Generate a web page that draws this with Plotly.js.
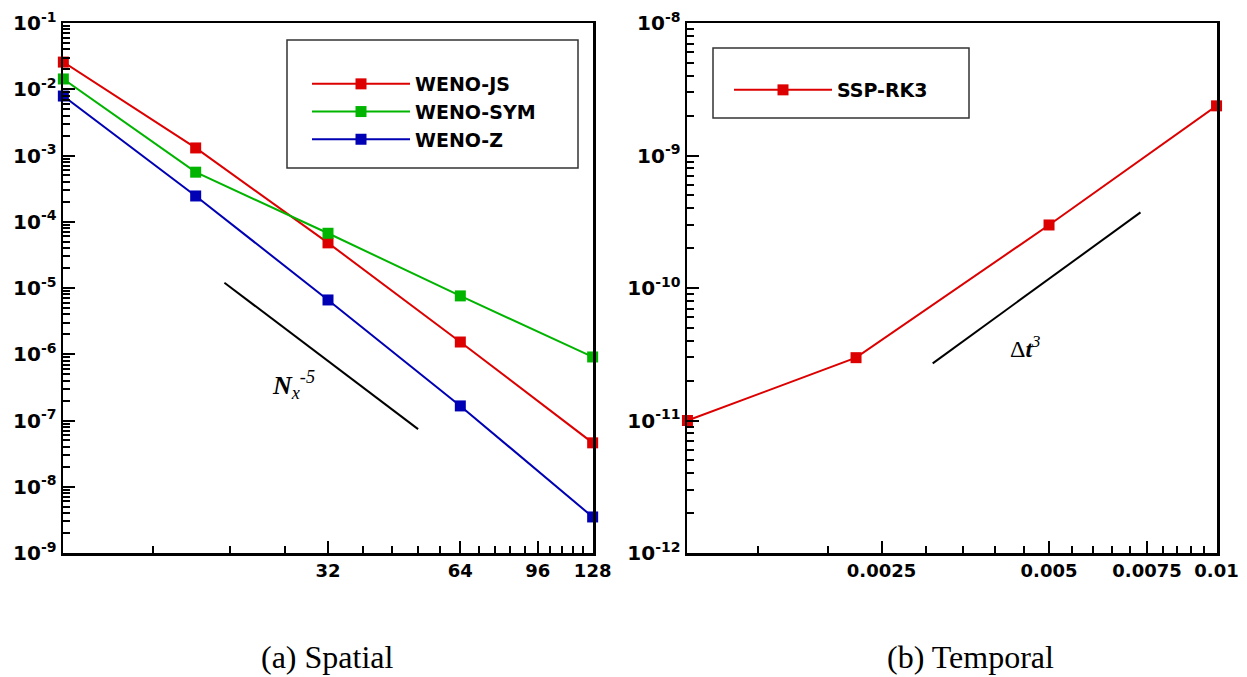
<!DOCTYPE html>
<html>
<head>
<meta charset="utf-8">
<script src="https://cdn.plot.ly/plotly-3.0.1.min.js"></script>
<style>
  html, body { margin: 0; padding: 0; background: #fff; }
  #chart { width: 1247px; height: 677px; }
</style>
</head>
<body>
<div id="chart"></div>
<script>
// ---------- Data ----------
const nx        = [8, 16, 32, 64, 128];
const wenoJS    = [2.57e-2, 1.30e-3, 4.8e-5, 1.53e-6, 4.6e-8];
const wenoSYM   = [1.43e-2, 5.6e-4, 6.7e-5, 7.6e-6, 9.1e-7];
const wenoZ     = [7.9e-3, 2.45e-4, 6.6e-6, 1.66e-7, 3.5e-9];
const refNx     = [18.6, 51.3];
const refNxErr  = [1.2e-5, 7.4e-8];

const dt        = [0.00112, 0.00225, 0.005, 0.01];
const sspRK3    = [1.0e-11, 2.98e-11, 2.99e-10, 2.37e-9];
const refDt     = [0.00309, 0.0073];
const refDtErr  = [2.7e-11, 3.72e-10];

// tick labels
const xTicksA      = [32, 64, 96, 128];
const xTickTextA   = ['32', '64', '96', '128'];
const xMinorA      = [12.8, 19.2, 25.6, 38.4, 44.8, 51.2, 57.6, 70.4, 76.8, 83.2, 89.6, 102.4, 108.8, 115.2, 121.6];
const xTicksB      = [0.0025, 0.005, 0.0075, 0.01];
const xTickTextB   = ['0.0025', '0.005', '0.0075', '0.01'];
const xMinorB      = [0.0015, 0.002, 0.003, 0.0035, 0.004, 0.0045, 0.0055, 0.006, 0.0065, 0.007, 0.008, 0.0085, 0.009, 0.0095];
const yExpA        = [-9, -8, -7, -6, -5, -4, -3, -2, -1];
const yExpB        = [-12, -11, -10, -9, -8];

const names  = ['WENO-JS', 'WENO-SYM', 'WENO-Z'];
const colors = ['#dd0000', '#00b400', '#0000b4'];

// ---------- helpers ----------
function decadeTicks(exps) {
  return exps.map(e => Math.pow(10, e));
}
function decadeText(exps) {
  return exps.map(e => '10<sup>' + (e < 0 ? '-' + (-e) : e) + '</sup>');
}
function minorDecades(exps) {
  const out = [];
  for (let i = 0; i < exps.length - 1; i++) {
    for (let m = 2; m <= 9; m++) out.push(m * Math.pow(10, exps[i]));
  }
  return out;
}

const W = 1247, H = 677;
const px = v => v / W;
const py = v => 1 - v / H;
const EPS = 0.0008; // tiny pad so edge markers are not hidden

const boldSans = 'DejaVu Sans, Liberation Sans, Arial, sans-serif';
const tickFontY = {family: boldSans, size: 20, color: '#000', weight: 'bold'};
const tickFontX = {family: boldSans, size: 18, color: '#000', weight: 'bold'};

const traces = [];
[wenoJS, wenoSYM, wenoZ].forEach((ys, i) => {
  traces.push({
    x: nx, y: ys, type: 'scatter', mode: 'lines+markers', name: names[i],
    xaxis: 'x', yaxis: 'y', legend: 'legend', cliponaxis: false,
    line: {color: colors[i], width: 2},
    marker: {symbol: 'square', size: 11, color: colors[i]}
  });
});
traces.push({
  x: refNx, y: refNxErr, type: 'scatter', mode: 'lines', showlegend: false,
  xaxis: 'x', yaxis: 'y', line: {color: '#000', width: 2}, hoverinfo: 'skip'
});
traces.push({
  x: dt, y: sspRK3, type: 'scatter', mode: 'lines+markers', name: 'SSP-RK3',
  xaxis: 'x2', yaxis: 'y2', legend: 'legend2', cliponaxis: false,
  line: {color: colors[0], width: 2},
  marker: {symbol: 'square', size: 11, color: colors[0]}
});
traces.push({
  x: refDt, y: refDtErr, type: 'scatter', mode: 'lines', showlegend: false,
  xaxis: 'x2', yaxis: 'y2', line: {color: '#000', width: 2}, hoverinfo: 'skip'
});

const axisCommon = {
  type: 'log', showgrid: false, zeroline: false,
  showline: true, linecolor: '#000', linewidth: 2.5, mirror: true,
  ticks: 'inside', ticklen: 12, tickwidth: 2, tickcolor: '#000'
};
const minorCommon = {tickmode: 'array', ticks: 'inside', ticklen: 7, tickwidth: 2, tickcolor: '#000', showgrid: false};

const yDomain = [py(553), py(23)];

const layout = {
  width: W, height: H,
  paper_bgcolor: '#fff', plot_bgcolor: '#fff',
  margin: {l: 0, r: 0, t: 0, b: 0},
  showlegend: true,
  xaxis: Object.assign({}, axisCommon, {
    domain: [px(63), px(593)], anchor: 'y',
    range: [Math.log10(nx[0]) - EPS, Math.log10(nx[nx.length - 1]) + EPS],
    tickmode: 'array', tickvals: xTicksA, ticktext: xTickTextA, tickfont: tickFontX,
    minor: Object.assign({}, minorCommon, {tickvals: xMinorA})
  }),
  yaxis: Object.assign({}, axisCommon, {
    domain: yDomain, anchor: 'x',
    range: [-9, -1],
    tickmode: 'array', tickvals: decadeTicks(yExpA), ticktext: decadeText(yExpA), tickfont: tickFontY,
    minor: Object.assign({}, minorCommon, {tickvals: minorDecades(yExpA)})
  }),
  xaxis2: Object.assign({}, axisCommon, {
    domain: [px(687), px(1217)], anchor: 'y2',
    range: [Math.log10(dt[0]) - EPS, Math.log10(dt[dt.length - 1]) + EPS],
    tickmode: 'array', tickvals: xTicksB, ticktext: xTickTextB, tickfont: tickFontX,
    minor: Object.assign({}, minorCommon, {tickvals: xMinorB})
  }),
  yaxis2: Object.assign({}, axisCommon, {
    domain: yDomain, anchor: 'x2',
    range: [-12, -8],
    tickmode: 'array', tickvals: decadeTicks(yExpB), ticktext: decadeText(yExpB), tickfont: tickFontY,
    minor: Object.assign({}, minorCommon, {tickvals: minorDecades(yExpB)})
  }),
  legend: {
    x: px(307), y: py(65), xanchor: 'left', yanchor: 'top',
    bgcolor: 'rgba(0,0,0,0)', borderwidth: 0, itemwidth: 98,
    font: {family: boldSans, size: 19, color: '#000', weight: 'bold'},
    tracegroupgap: 0
  },
  legend2: {
    x: px(729), y: py(71), xanchor: 'left', yanchor: 'top',
    bgcolor: 'rgba(0,0,0,0)', borderwidth: 0, itemwidth: 98,
    font: {family: boldSans, size: 19, color: '#000', weight: 'bold'}
  },
  shapes: [
    {type: 'rect', xref: 'paper', yref: 'paper', x0: px(287), x1: px(578), y0: py(168), y1: py(40),
     line: {color: '#333', width: 1.5}, fillcolor: 'rgba(0,0,0,0)', layer: 'below'},
    {type: 'rect', xref: 'paper', yref: 'paper', x0: px(713), x1: px(969), y0: py(118), y1: py(48),
     line: {color: '#333', width: 1.5}, fillcolor: 'rgba(0,0,0,0)', layer: 'below'}
  ],
  annotations: [
    {xref: 'paper', yref: 'paper', x: px(293), y: py(385), xanchor: 'center', yanchor: 'middle', showarrow: false,
     text: '<b><i>N</i></b><sub><i>x</i></sub><sup><i>-5</i></sup>',
     font: {family: 'Liberation Serif, Times New Roman, serif', size: 26, color: '#000'}},
    {xref: 'paper', yref: 'paper', x: px(1025), y: py(347), xanchor: 'center', yanchor: 'middle', showarrow: false,
     text: 'Δ<b><i>t</i></b><sup><i>3</i></sup>',
     font: {family: 'Liberation Serif, Times New Roman, serif', size: 24, color: '#000'}},
    {xref: 'paper', yref: 'paper', x: px(327), y: py(657), xanchor: 'center', yanchor: 'middle', showarrow: false,
     text: '(a) Spatial',
     font: {family: 'Liberation Serif, Times New Roman, serif', size: 32, color: '#000'}},
    {xref: 'paper', yref: 'paper', x: px(970), y: py(657), xanchor: 'center', yanchor: 'middle', showarrow: false,
     text: '(b) Temporal',
     font: {family: 'Liberation Serif, Times New Roman, serif', size: 32, color: '#000'}}
  ]
};

Plotly.newPlot('chart', traces, layout, {staticPlot: true, displayModeBar: false});
</script>
</body>
</html>
